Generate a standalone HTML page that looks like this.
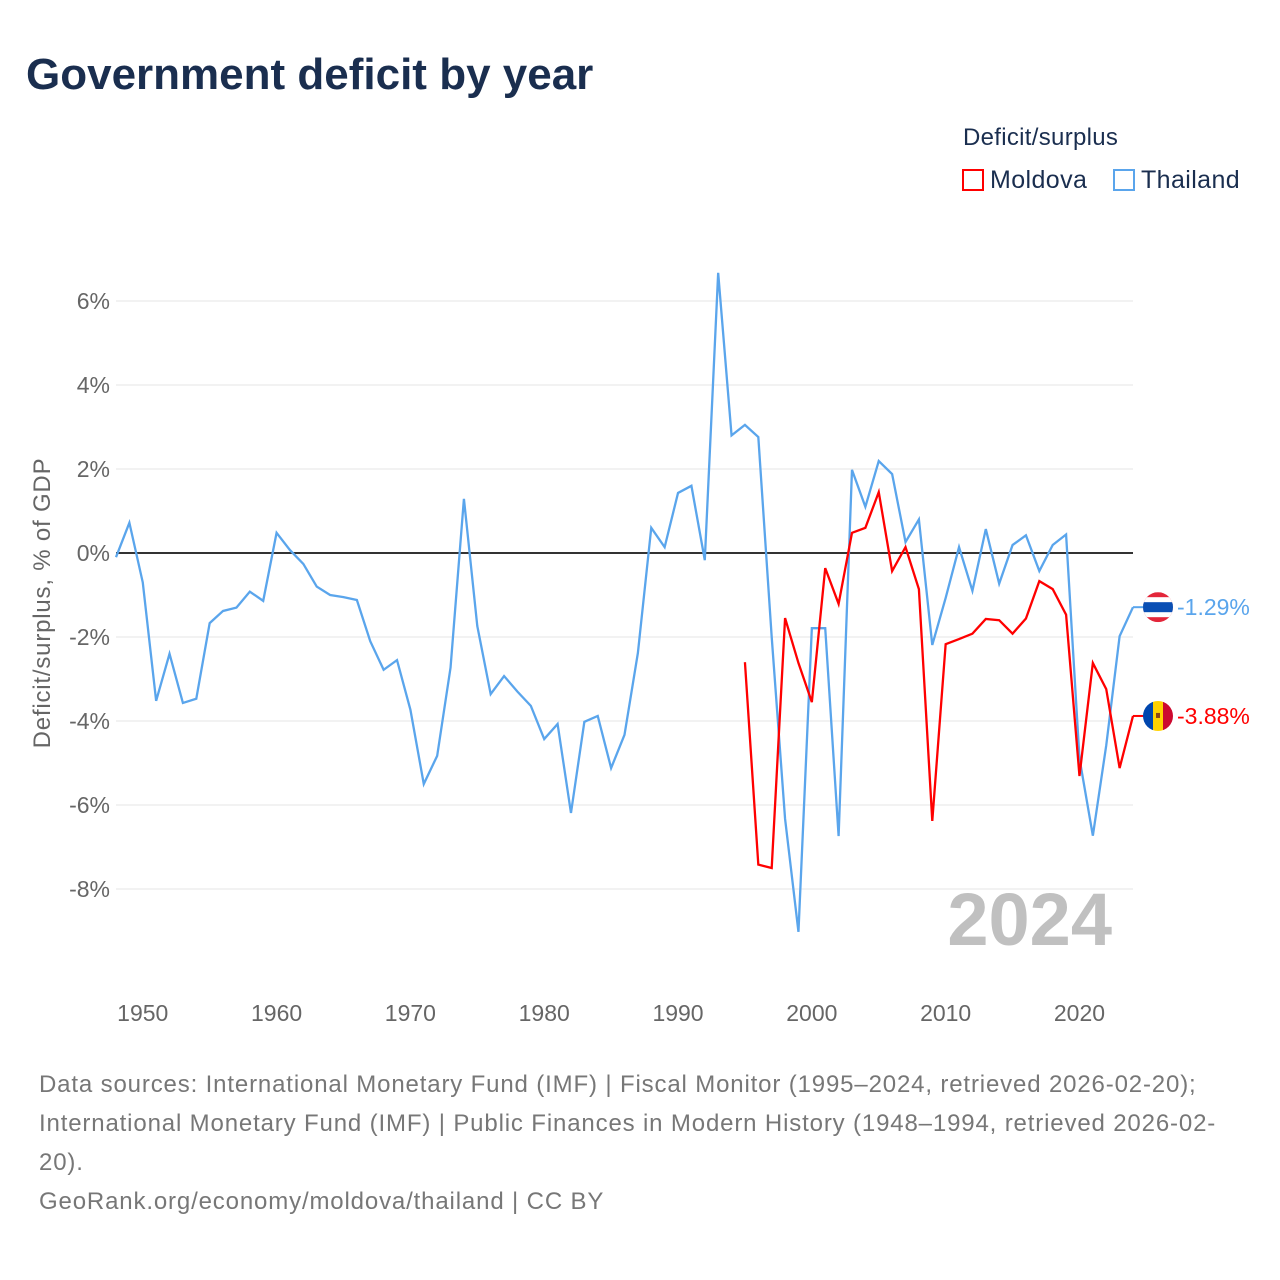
<!DOCTYPE html>
<html><head><meta charset="utf-8"><style>
body{margin:0;background:#fff;font-family:"Liberation Sans",sans-serif;}
#wrap{position:relative;width:1280px;height:1280px;overflow:hidden;}
.t{position:absolute;white-space:nowrap;}
</style></head><body>
<div id="wrap">
<div class="t" style="left:26px;top:50px;font-size:44px;font-weight:bold;color:#1a2e4f;">Government deficit by year</div>
<div class="t" style="left:963px;top:124px;font-size:24px;color:#1a2e4f;letter-spacing:0.3px">Deficit/surplus</div>
<div class="t" style="left:962px;top:166px;font-size:25px;color:#1a2e4f;letter-spacing:0.4px"><span style="display:inline-block;width:22px;height:22px;border:2px solid #f00;box-sizing:border-box;vertical-align:-3px;margin-right:6px"></span>Moldova</div>
<div class="t" style="left:1113px;top:166px;font-size:25px;color:#1a2e4f;letter-spacing:0.4px"><span style="display:inline-block;width:22px;height:22px;border:2px solid #5aa5ec;box-sizing:border-box;vertical-align:-3px;margin-right:6px"></span>Thailand</div>
<svg id="chart" width="1280" height="1280" style="position:absolute;left:0;top:0" font-family="Liberation Sans, sans-serif"></svg>
<div class="t" style="left:39px;top:1065px;font-size:24px;line-height:39px;color:#777;letter-spacing:0.85px">Data sources: International Monetary Fund (IMF) | Fiscal Monitor (1995–2024, retrieved 2026-02-20);<br>International Monetary Fund (IMF) | Public Finances in Modern History (1948–1994, retrieved 2026-02-<br>20).<br>GeoRank.org/economy/moldova/thailand | CC BY</div>
</div>
<script>
const thYears=[];for(let y=1948;y<=2024;y++)thYears.push(y);
const thailand=[-0.1,0.72,-0.7,-3.52,-2.4,-3.57,-3.47,-1.67,-1.38,-1.3,-0.92,-1.14,0.48,0.07,-0.26,-0.8,-1.0,-1.05,-1.12,-2.1,-2.78,-2.55,-3.73,-5.5,-4.83,-2.73,1.29,-1.74,-3.36,-2.93,-3.3,-3.64,-4.43,-4.07,-6.19,-4.02,-3.88,-5.12,-4.33,-2.38,0.6,0.14,1.43,1.6,-0.17,6.67,2.8,3.05,2.76,-2.0,-6.33,-9.02,-1.79,-1.79,-6.74,1.98,1.1,2.19,1.88,0.26,0.8,-2.19,-1.07,0.14,-0.9,0.57,-0.73,0.19,0.42,-0.43,0.19,0.44,-4.89,-6.73,-4.58,-1.98,-1.29];
const mdYears=[];for(let y=1995;y<=2024;y++)mdYears.push(y);
const moldova=[-2.6,-7.42,-7.5,-1.55,-2.62,-3.55,-0.36,-1.21,0.48,0.6,1.45,-0.43,0.14,-0.86,-6.38,-2.17,-2.05,-1.92,-1.57,-1.6,-1.92,-1.56,-0.67,-0.86,-1.47,-5.31,-2.62,-3.24,-5.12,-3.88];
const yTicks=[6,4,2,0,-2,-4,-6,-8];
const xTicks=[1950,1960,1970,1980,1990,2000,2010,2020];
const X=y=>116+(y-1948)*(1133-116)/76;
const Y=v=>553-v*42;
const svg=document.getElementById('chart');const NS='http://www.w3.org/2000/svg';
function mk(t,a,p){const e=document.createElementNS(NS,t);for(const k in a)e.setAttribute(k,a[k]);(p||svg).appendChild(e);return e;}
yTicks.forEach(v=>{
 if(v!==0){const g=mk('line',{x1:116,x2:1133,y1:Y(v),y2:Y(v),stroke:'#e6e6e6','stroke-width':1});
 
 }
 const t=mk('text',{x:110,y:Y(v)+8,'text-anchor':'end','font-size':23,fill:'#666'});t.textContent=v+'%';
 
 
});
const z=mk('line',{x1:116,x2:1133,y1:Y(0),y2:Y(0),stroke:'#333','stroke-width':2});


xTicks.forEach(yr=>{const t=mk('text',{x:X(yr),y:1021,'text-anchor':'middle','font-size':23,fill:'#666'});t.textContent=yr;
 
 });
const yt=mk('text',{transform:'translate(50,603) rotate(-90)','text-anchor':'middle','font-size':24,fill:'#666','letter-spacing':'0.8'});yt.textContent='Deficit/surplus, % of GDP';


const yr=mk('text',{x:1112,y:945,'text-anchor':'end','font-size':74,'font-weight':'bold',fill:'#c0c0c0'});yr.textContent='2024';


function line(xs,vs,col,name){const p=mk('polyline',{points:xs.map((x,i)=>X(x)+','+Y(vs[i])).join(' '),fill:'none',stroke:col,'stroke-width':2.3,'stroke-linejoin':'miter'});
 
 }
line(thYears,thailand,'#5aa5ec','thailand-line');
line(mdYears,moldova,'#f00','moldova-line');
function endLabel(v,col,name,flag){const y=Y(v),x=1158;
 mk('line',{x1:1133,x2:1145,y1:y,y2:y,stroke:col,'stroke-width':2});
 const g=mk('g',{});
 
 const cp=mk('clipPath',{id:'c'+name},g);mk('circle',{cx:x,cy:y,r:15},cp);
 const gg=mk('g',{'clip-path':'url(#c'+name+')'},g);
 if(flag==='th'){mk('rect',{x:x-15,y:y-15,width:30,height:30,fill:'#e3263a'},gg);mk('rect',{x:x-15,y:y-10,width:30,height:20,fill:'#fff'},gg);mk('rect',{x:x-15,y:y-5,width:30,height:10,fill:'#0a4fb4'},gg);}
 else{mk('rect',{x:x-15,y:y-15,width:10,height:30,fill:'#0046ae'},gg);mk('rect',{x:x-5,y:y-15,width:10,height:30,fill:'#ffd200'},gg);mk('rect',{x:x+5,y:y-15,width:10,height:30,fill:'#cc092f'},gg);mk('rect',{x:x-2,y:y-3,width:4,height:5,fill:'#8b4513'},gg);}
 const t=mk('text',{x:1177,y:y+8,'font-size':23,fill:col});t.textContent=v.toFixed(2)+'%';
 
 }
endLabel(thailand[thailand.length-1],'#5aa5ec','thailand','th');
endLabel(moldova[moldova.length-1],'#f00','moldova','md');
</script>
</body></html>
